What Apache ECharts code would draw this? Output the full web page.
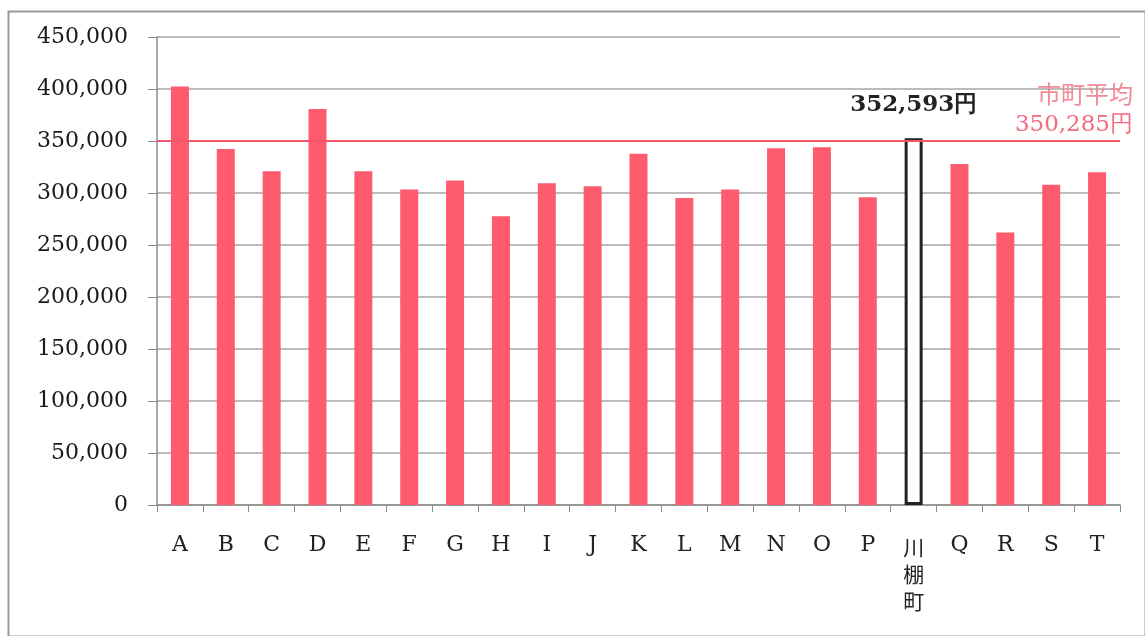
<!DOCTYPE html>
<html>
<head>
<meta charset="utf-8">
<script src="https://cdn.jsdelivr.net/npm/echarts@6/dist/echarts.min.js"></script>
<style>
html,body{margin:0;padding:0;background:#fff;}
#chart{width:1145px;height:636px;}
</style>
</head>
<body>
<div id="chart"></div>
<script>
const categories = ['A','B','C','D','E','F','G','H','I','J','K','L','M','N','O','P','川棚町','Q','R','S','T'];
const values = [402500, 342300, 321000, 380800, 321000, 303300, 311900, 277600, 309300, 306400, 337800, 295200, 303300, 343000, 344000, 295900, 352593, 328000, 262000, 308000, 320000];
const highlight = '川棚町';
const average = 350285;
const averageTitle = '市町平均';
const yTicks = {min: 0, max: 450000, interval: 50000};

const fmt = v => v.toLocaleString('en-US');
const serif = '"DejaVu Serif", serif';
const cjk = '"Noto Sans CJK JP", sans-serif';

const data = values.map((v, i) => {
  if (categories[i] === highlight) {
    return {
      value: v,
      itemStyle: {color: '#ffffff', borderColor: '#222222', borderWidth: 3},
      label: {
        show: true, position: 'top', distance: 22,
        formatter: p => fmt(p.value) + '円',
        fontFamily: serif, fontWeight: 'bold', fontSize: 23, color: '#222'
      }
    };
  }
  return v;
});

const chart = echarts.init(document.getElementById('chart'));
chart.setOption({
  animation: false,
  backgroundColor: '#fff',
  grid: {left: 157, right: 25, top: 37, bottom: 131},
  graphic: [{
    type: 'rect', left: 6, top: 9, z: -1,
    shape: {width: 1137, height: 625},
    style: {fill: 'none', stroke: '#9a9a9a', lineWidth: 2}
  }],
  xAxis: {
    type: 'category',
    data: categories,
    boundaryGap: true,
    axisLine: {show: true, lineStyle: {color: '#8c8c8c', width: 1.5}},
    axisTick: {show: true, length: 7, alignWithLabel: false, lineStyle: {color: '#8c8c8c'}},
    axisLabel: {
      margin: 29,
      interval: 0,
      color: '#222',
      fontFamily: serif,
      fontSize: 22,
      formatter: v => v === highlight ? '{c|' + v.split('').join('\n') + '}' : v,
      rich: {c: {fontFamily: cjk, fontSize: 21, lineHeight: 27, color: '#222'}}
    }
  },
  yAxis: {
    type: 'value',
    min: yTicks.min, max: yTicks.max, interval: yTicks.interval,
    axisLine: {show: true, lineStyle: {color: '#8c8c8c', width: 1.5}},
    axisTick: {show: true, length: 9, lineStyle: {color: '#8c8c8c'}},
    splitLine: {show: true, lineStyle: {color: '#a6a6a6', width: 1.5}},
    axisLabel: {
      margin: 29, color: '#1a1a1a', fontFamily: serif, fontSize: 22,
      formatter: v => fmt(v)
    }
  },
  series: [{
    type: 'bar',
    data: data,
    barWidth: 18,
    itemStyle: {color: '#ff5b6f'},
    markLine: {
      silent: true,
      symbol: 'none',
      lineStyle: {color: '#f2566b', width: 2, type: 'solid'},
      data: [{yAxis: average}],
      label: {
        show: true,
        position: 'insideEndTop',
        distance: 3,
        offset: [16, 0],
        align: 'right',
        formatter: () => '{t|' + averageTitle + '}\n{v|' + fmt(average) + '円}',
        rich: {
          t: {fontFamily: cjk, fontSize: 24, color: '#f08a96', lineHeight: 36, align: 'right'},
          v: {fontFamily: serif, fontSize: 23, color: '#f56a7c', lineHeight: 26, align: 'right'}
        }
      }
    }
  }]
});
</script>
</body>
</html>
